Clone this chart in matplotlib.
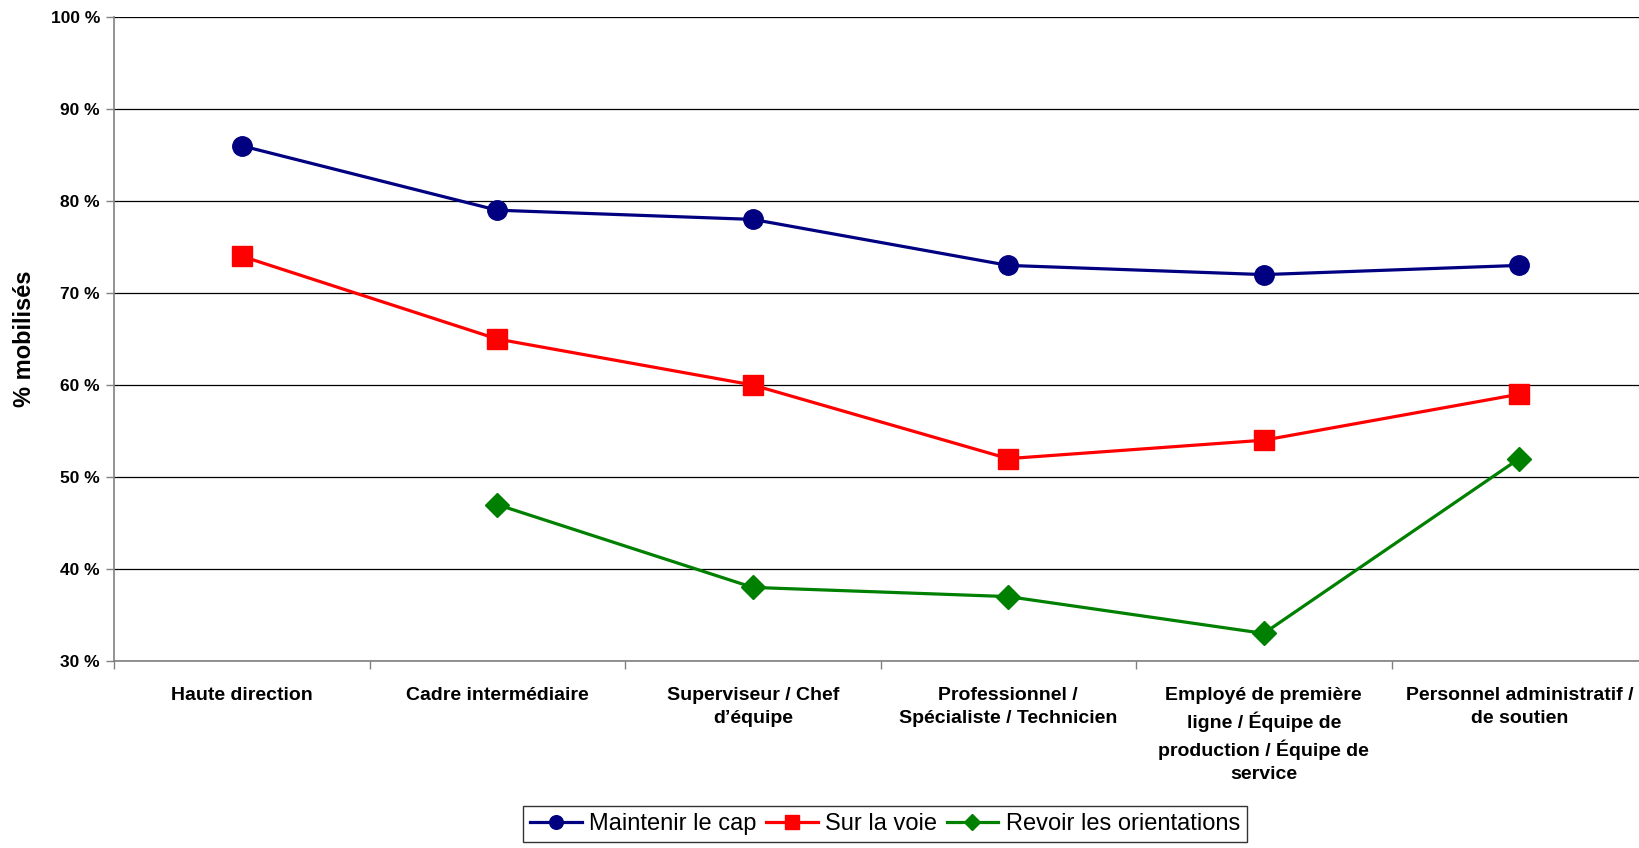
import matplotlib
matplotlib.use("Agg")
import matplotlib.pyplot as plt
import numpy as np

categories = [
    "Haute direction",
    "Cadre intermédiaire",
    "Superviseur / Chef\nd\u2019équipe",
    "Professionnel /\nSpécialiste / Technicien",
    "Employé de première\nligne / Équipe de\nproduction / Équipe de\nservice",
    "Personnel administratif /\nde soutien",
]
maintenir = [86, 79, 78, 73, 72, 73]
sur_la_voie = [74, 65, 60, 52, 54, 59]
revoir = [np.nan, 47, 38, 37, 33, 52]
series_names = ["Maintenir le cap", "Sur la voie", "Revoir les orientations"]
y_ticks = [30, 40, 50, 60, 70, 80, 90, 100]

plt.rcParams["font.family"] = ["Liberation Sans", "DejaVu Sans"]

W, H = 1640, 848
fig = plt.figure(figsize=(W / 100, H / 100), dpi=100)
left, right, top, bottom = 114, 1647, 17, 661
ax = fig.add_axes([left / W, 1 - bottom / H, (right - left) / W, (bottom - top) / H])

x = np.arange(len(categories)) + 0.5
ax.plot(x, maintenir, color="#000080", lw=2.3, marker="o", ms=14, zorder=3,
        label=series_names[0])
ax.plot(x, sur_la_voie, color="#FF0000", lw=2.3, marker="s", ms=14, zorder=3,
        label=series_names[1])
ax.plot(x, revoir, color="#008000", lw=2.3, marker="D", ms=12, zorder=3,
        label=series_names[2])

ax.set_xlim(0, len(categories))
ax.set_ylim(30, 100)
ax.set_yticks(y_ticks)
ax.set_yticklabels([f"{v} %" for v in y_ticks], fontsize=12.5, fontweight="bold")
ax.yaxis.grid(True, color="#000000", lw=0.9)
ax.set_axisbelow(True)

ax.set_xticks(np.arange(len(categories) + 1))
ax.set_xticklabels([])
ax.set_xticks(x, minor=True)
ax.set_xticklabels(categories, minor=True, fontsize=14, fontweight="bold",
                   linespacing=1.45, va="top", ha="center")
ax.tick_params(axis="x", which="minor", length=0, pad=19)
ax.tick_params(axis="x", which="major", length=6, color="#808080", width=1)
ax.tick_params(axis="y", length=6, color="#808080", width=1, pad=4)

for s in ["top", "right"]:
    ax.spines[s].set_visible(False)
for s in ["left", "bottom"]:
    ax.spines[s].set_color("#808080")
    ax.spines[s].set_linewidth(1.2)

fig.text(25 / W, 1 - 339 / H, "% mobilisés", rotation=90, ha="center", va="center",
         fontsize=17, fontweight="bold")

leg = fig.legend(loc="upper center", bbox_to_anchor=(885 / W, 1 - 806 / H), ncol=3,
                 frameon=True, fancybox=False, edgecolor="#000000",
                 prop={"size": 17},
                 handlelength=2.2, handletextpad=0.3, columnspacing=0.4,
                 borderpad=0.3, borderaxespad=0, markerscale=0.7)
leg.get_frame().set_linewidth(1.0)

fig.savefig("out.png", dpi=100, facecolor="white")
